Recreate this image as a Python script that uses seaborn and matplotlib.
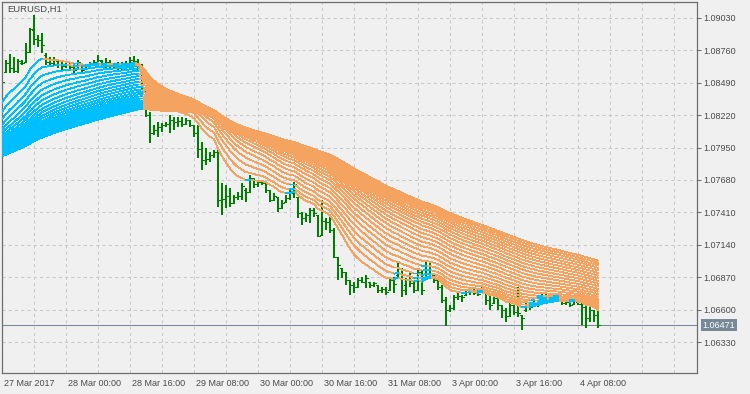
import numpy as np
import pandas as pd
import matplotlib
matplotlib.use("Agg")
import matplotlib.pyplot as plt
import seaborn as sns
from matplotlib.transforms import ScaledTranslation, blended_transform_factory

# ---------------- data ----------------
chart_title = "EURUSD,H1"

open_ = [
    1.08463, 1.08580, 1.08655, 1.08613, 1.08588, 1.08655, 1.08663, 1.08747, 1.08930, 1.08855,
    1.08847, 1.08722, 1.08663, 1.08655, 1.08672, 1.08647, 1.08630, 1.08638, 1.08622, 1.08605,
    1.08655, 1.08605, 1.08630, 1.08655, 1.08663, 1.08672, 1.08630, 1.08663, 1.08638, 1.08630,
    1.08647, 1.08630, 1.08655, 1.08680, 1.08672, 1.08630, 1.08455, 1.08222, 1.08072, 1.08097,
    1.08122, 1.08138, 1.08147, 1.08180, 1.08163, 1.08172, 1.08147, 1.08180, 1.08138, 1.08072,
    1.07938, 1.07847, 1.07855, 1.07888, 1.07913, 1.07513, 1.07522, 1.07547, 1.07488, 1.07538,
    1.07547, 1.07597, 1.07580, 1.07697, 1.07647, 1.07663, 1.07655, 1.07597, 1.07513, 1.07538,
    1.07447, 1.07497, 1.07530, 1.07572, 1.07538, 1.07405, 1.07363, 1.07388, 1.07430, 1.07388,
    1.07222, 1.07338, 1.07330, 1.07263, 1.07038, 1.06947, 1.06913, 1.06847, 1.06805, 1.06788,
    1.06847, 1.06830, 1.06830, 1.06805, 1.06805, 1.06763, 1.06772, 1.06763, 1.06847, 1.06888,
    1.06947, 1.06805, 1.06847, 1.06822, 1.06763, 1.06913, 1.06863, 1.06972, 1.06888, 1.06847,
    1.06788, 1.06680, 1.06597, 1.06613, 1.06705, 1.06713, 1.06722, 1.06747, 1.06755, 1.06738,
    1.06747, 1.06747, 1.06680, 1.06655, 1.06697, 1.06638, 1.06597, 1.06547, 1.06638, 1.06580,
    1.06555, 1.06597, 1.06638, 1.06638, 1.06680, 1.06697, 1.06722, 1.06705, 1.06680, 1.06713,
    1.06680, 1.06655, 1.06663, 1.06647, 1.06663, 1.06647, 1.06622, 1.06530, 1.06597, 1.06555,
]
high = [
    1.08555, 1.08680, 1.08730, 1.08705, 1.08688, 1.08680, 1.08822, 1.08947, 1.09055, 1.08888,
    1.08905, 1.08738, 1.08705, 1.08705, 1.08680, 1.08680, 1.08663, 1.08655, 1.08655, 1.08680,
    1.08655, 1.08638, 1.08663, 1.08680, 1.08722, 1.08680, 1.08697, 1.08680, 1.08655, 1.08663,
    1.08663, 1.08672, 1.08705, 1.08713, 1.08688, 1.08647, 1.08463, 1.08247, 1.08138, 1.08163,
    1.08155, 1.08163, 1.08222, 1.08205, 1.08205, 1.08205, 1.08197, 1.08180, 1.08138, 1.08138,
    1.07997, 1.07947, 1.07913, 1.07930, 1.07930, 1.07655, 1.07638, 1.07613, 1.07555, 1.07580,
    1.07655, 1.07613, 1.07722, 1.07697, 1.07680, 1.07680, 1.07655, 1.07597, 1.07572, 1.07538,
    1.07513, 1.07555, 1.07597, 1.07663, 1.07538, 1.07413, 1.07405, 1.07447, 1.07447, 1.07388,
    1.07513, 1.07363, 1.07372, 1.07280, 1.07038, 1.06947, 1.06913, 1.06847, 1.06830, 1.06863,
    1.06872, 1.06888, 1.06830, 1.06830, 1.06805, 1.06788, 1.06788, 1.06872, 1.06872, 1.06988,
    1.06947, 1.06863, 1.06905, 1.06830, 1.06947, 1.06930, 1.07013, 1.06988, 1.06888, 1.06847,
    1.06805, 1.06705, 1.06638, 1.06722, 1.06738, 1.06722, 1.06763, 1.06780, 1.06780, 1.06772,
    1.06805, 1.06747, 1.06738, 1.06722, 1.06722, 1.06638, 1.06613, 1.06663, 1.06655, 1.06788,
    1.06555, 1.06663, 1.06655, 1.06697, 1.06680, 1.06738, 1.06738, 1.06722, 1.06730, 1.06738,
    1.06680, 1.06680, 1.06663, 1.06705, 1.06663, 1.06655, 1.06655, 1.06622, 1.06597, 1.06613,
]
low = [
    1.08447, 1.08572, 1.08572, 1.08572, 1.08572, 1.08638, 1.08655, 1.08738, 1.08805, 1.08788,
    1.08738, 1.08638, 1.08622, 1.08638, 1.08613, 1.08597, 1.08613, 1.08597, 1.08572, 1.08597,
    1.08572, 1.08597, 1.08613, 1.08638, 1.08638, 1.08613, 1.08613, 1.08613, 1.08613, 1.08597,
    1.08597, 1.08597, 1.08597, 1.08622, 1.08597, 1.08430, 1.08205, 1.07988, 1.08055, 1.08038,
    1.08080, 1.08122, 1.08072, 1.08097, 1.08122, 1.08122, 1.08138, 1.08122, 1.08038, 1.07863,
    1.07763, 1.07805, 1.07830, 1.07863, 1.07455, 1.07388, 1.07447, 1.07455, 1.07488, 1.07513,
    1.07513, 1.07497, 1.07572, 1.07613, 1.07622, 1.07638, 1.07572, 1.07497, 1.07513, 1.07413,
    1.07447, 1.07497, 1.07513, 1.07530, 1.07363, 1.07305, 1.07330, 1.07322, 1.07372, 1.07205,
    1.07222, 1.07263, 1.07238, 1.07030, 1.06847, 1.06863, 1.06805, 1.06722, 1.06738, 1.06788,
    1.06822, 1.06780, 1.06780, 1.06788, 1.06738, 1.06738, 1.06722, 1.06763, 1.06738, 1.06872,
    1.06705, 1.06722, 1.06788, 1.06738, 1.06763, 1.06722, 1.06847, 1.06905, 1.06822, 1.06763,
    1.06655, 1.06463, 1.06580, 1.06597, 1.06680, 1.06663, 1.06722, 1.06722, 1.06722, 1.06713,
    1.06747, 1.06638, 1.06597, 1.06655, 1.06597, 1.06530, 1.06497, 1.06538, 1.06555, 1.06538,
    1.06430, 1.06580, 1.06597, 1.06638, 1.06622, 1.06697, 1.06680, 1.06663, 1.06672, 1.06713,
    1.06638, 1.06638, 1.06622, 1.06647, 1.06638, 1.06471, 1.06447, 1.06497, 1.06497, 1.06447,
]
close = [
    1.08497, 1.08655, 1.08613, 1.08588, 1.08672, 1.08655, 1.08747, 1.08938, 1.08855, 1.08847,
    1.08805, 1.08663, 1.08655, 1.08680, 1.08647, 1.08630, 1.08647, 1.08622, 1.08597, 1.08663,
    1.08597, 1.08630, 1.08655, 1.08663, 1.08680, 1.08630, 1.08663, 1.08638, 1.08630, 1.08647,
    1.08630, 1.08655, 1.08680, 1.08672, 1.08630, 1.08455, 1.08222, 1.08072, 1.08097, 1.08122,
    1.08138, 1.08147, 1.08180, 1.08163, 1.08172, 1.08147, 1.08180, 1.08138, 1.08072, 1.07938,
    1.07847, 1.07855, 1.07888, 1.07913, 1.07513, 1.07522, 1.07547, 1.07488, 1.07538, 1.07547,
    1.07630, 1.07580, 1.07697, 1.07647, 1.07663, 1.07655, 1.07597, 1.07513, 1.07547, 1.07447,
    1.07488, 1.07530, 1.07572, 1.07647, 1.07405, 1.07363, 1.07388, 1.07430, 1.07405, 1.07213,
    1.07338, 1.07330, 1.07263, 1.07038, 1.06972, 1.06913, 1.06847, 1.06805, 1.06788, 1.06847,
    1.06830, 1.06863, 1.06805, 1.06822, 1.06763, 1.06772, 1.06747, 1.06847, 1.06813, 1.06947,
    1.06763, 1.06847, 1.06822, 1.06763, 1.06913, 1.06763, 1.06972, 1.06930, 1.06847, 1.06788,
    1.06680, 1.06597, 1.06613, 1.06705, 1.06713, 1.06705, 1.06747, 1.06755, 1.06738, 1.06730,
    1.06763, 1.06680, 1.06638, 1.06697, 1.06638, 1.06597, 1.06547, 1.06638, 1.06580, 1.06572,
    1.06530, 1.06638, 1.06622, 1.06680, 1.06655, 1.06722, 1.06705, 1.06680, 1.06705, 1.06722,
    1.06655, 1.06663, 1.06638, 1.06688, 1.06647, 1.06622, 1.06530, 1.06597, 1.06555, 1.06471,
]
# closes of the hours before the first visible bar (estimated from where the averages start)
pre_close = [1.0776, 1.0774, 1.0778, 1.0775, 1.0772, 1.0777, 1.0780, 1.0775, 1.0779,
             1.0796, 1.0815, 1.0830, 1.0841, 1.0848, 1.0852, 1.0855, 1.0851, 1.0854]

ma_periods = list(range(12, 101, 4))
last_price = 1.06471

price_ticks = [1.06330, 1.06600, 1.06870, 1.07140, 1.07410, 1.07680,
               1.07950, 1.08220, 1.08490, 1.08760, 1.09030]
time_labels = ["27 Mar 2017", "28 Mar 00:00", "28 Mar 16:00", "29 Mar 08:00",
               "30 Mar 00:00", "30 Mar 16:00", "31 Mar 08:00", "3 Apr 00:00",
               "3 Apr 16:00", "4 Apr 08:00"]
time_label_bars = [0, 16, 32, 48, 64, 80, 96, 112, 128, 144]

# ---------------- style ----------------
BG = "#F0F0F0"
GRID = "#C8C8C8"
FRAME = "#6E6E6E"
TXT = "#4A4A4A"
BAR = "#008000"
DOWN = "#F4A460"
UP = "#00BFFF"
LASTC = "#778899"

sns.set_style("white")
plt.rcParams["font.family"] = ["Liberation Sans", "DejaVu Sans"]

W, H = 750, 394
fig = plt.figure(figsize=(W / 100, H / 100), dpi=100, facecolor=BG)
ax = fig.add_axes([2 / W, (H - 373) / H, 695 / W, 371 / H])
ax.set_facecolor(BG)

n = len(close)
bars = pd.DataFrame({"bar": np.arange(n), "open": open_, "high": high,
                     "low": low, "close": close})

# ---------------- moving average fan ----------------
full = np.array(pre_close + close, dtype=float)
npre = len(pre_close)
xs = np.arange(-1, n)
rows = []
uid = 0
for p in ma_periods:
    a = 2.0 / (p + 1)
    e = np.empty_like(full)
    e[0] = full[0]
    for t in range(1, len(full)):
        e[t] = e[t - 1] + a * (full[t] - e[t - 1])
    vis = e[npre - 1:]
    up = np.diff(vis) > 0
    start = 0
    for j in range(1, len(up) + 1):
        if j == len(up) or up[j] != up[start]:
            d = "up" if up[start] else "down"
            for q in range(start, j + 1):
                rows.append((xs[q], vis[q], uid, d))
            uid += 1
            start = j
fan = pd.DataFrame(rows, columns=["bar", "ma", "run", "dir"])

# grid
ax.set_xlim(0, 173.75)
ax.set_ylim(1.060717, 1.091633)
ax.set_xticks(np.arange(0, 174, 8), minor=True)
ax.set_yticks(price_ticks)
ax.grid(True, which="both", color=GRID, lw=0.75, ls=(0, (3, 3)))
ax.set_axisbelow(True)

# last price line
ax.axhline(last_price, color=LASTC, lw=0.75, zorder=1)

# OHLC bars
ax.vlines(bars["bar"], bars["low"], bars["high"], color=BAR, lw=1.3,
          antialiased=False, zorder=2)
ax.hlines(bars["open"], bars["bar"] - 0.5, bars["bar"], color=BAR, lw=0.72,
          antialiased=False, zorder=2)
ax.hlines(bars["close"], bars["bar"], bars["bar"] + 0.5, color=BAR, lw=0.72,
          antialiased=False, zorder=2)

sns.lineplot(data=fan, x="bar", y="ma", hue="dir", units="run", estimator=None,
             hue_order=["down", "up"], palette={"down": DOWN, "up": UP},
             lw=0.6, legend=False, sort=False, ax=ax, antialiased=False, zorder=3)

ax.set_xlim(0, 173.75)
ax.set_ylim(1.060717, 1.091633)
ax.set_xlabel("")
ax.set_ylabel("")

# axes / ticks
ax.yaxis.tick_right()
ax.set_yticks(price_ticks)
ax.set_yticklabels([f"{v:.5f}" for v in price_ticks])
ax.set_xticks(time_label_bars)
ax.set_xticklabels(time_labels)
ax.tick_params(axis="y", which="major", direction="out", length=3, width=0.75,
               color=FRAME, pad=1.5, labelsize=6.5, labelcolor=TXT)
ax.tick_params(axis="x", which="major", direction="out", length=4, width=0.75,
               color=FRAME, pad=0.3, labelsize=6.5, labelcolor=TXT)
ax.tick_params(axis="both", which="minor", length=0)
for lbl in ax.get_xticklabels():
    lbl.set_ha("left")
    lbl.set_transform(lbl.get_transform() + ScaledTranslation(1.5 / 100, 0, fig.dpi_scale_trans))

for s in ax.spines.values():
    s.set_visible(True)
    s.set_color(FRAME)
    s.set_linewidth(0.9)

# title
ax.text(5 / 695, 1 - 7 / 371, chart_title, transform=ax.transAxes, ha="left",
        va="center", fontsize=6.8, color=TXT, zorder=10)

# last price tag
trans = blended_transform_factory(ax.transAxes, ax.transData)
ax.text(1 + 5.5 / 695, last_price, f"{last_price:.5f}", transform=trans, ha="left",
        va="center", fontsize=6.5, color="white", clip_on=False, zorder=10,
        bbox=dict(boxstyle="square,pad=0.2", fc=LASTC, ec="none"))

fig.savefig("out.png", dpi=100, facecolor=BG)
